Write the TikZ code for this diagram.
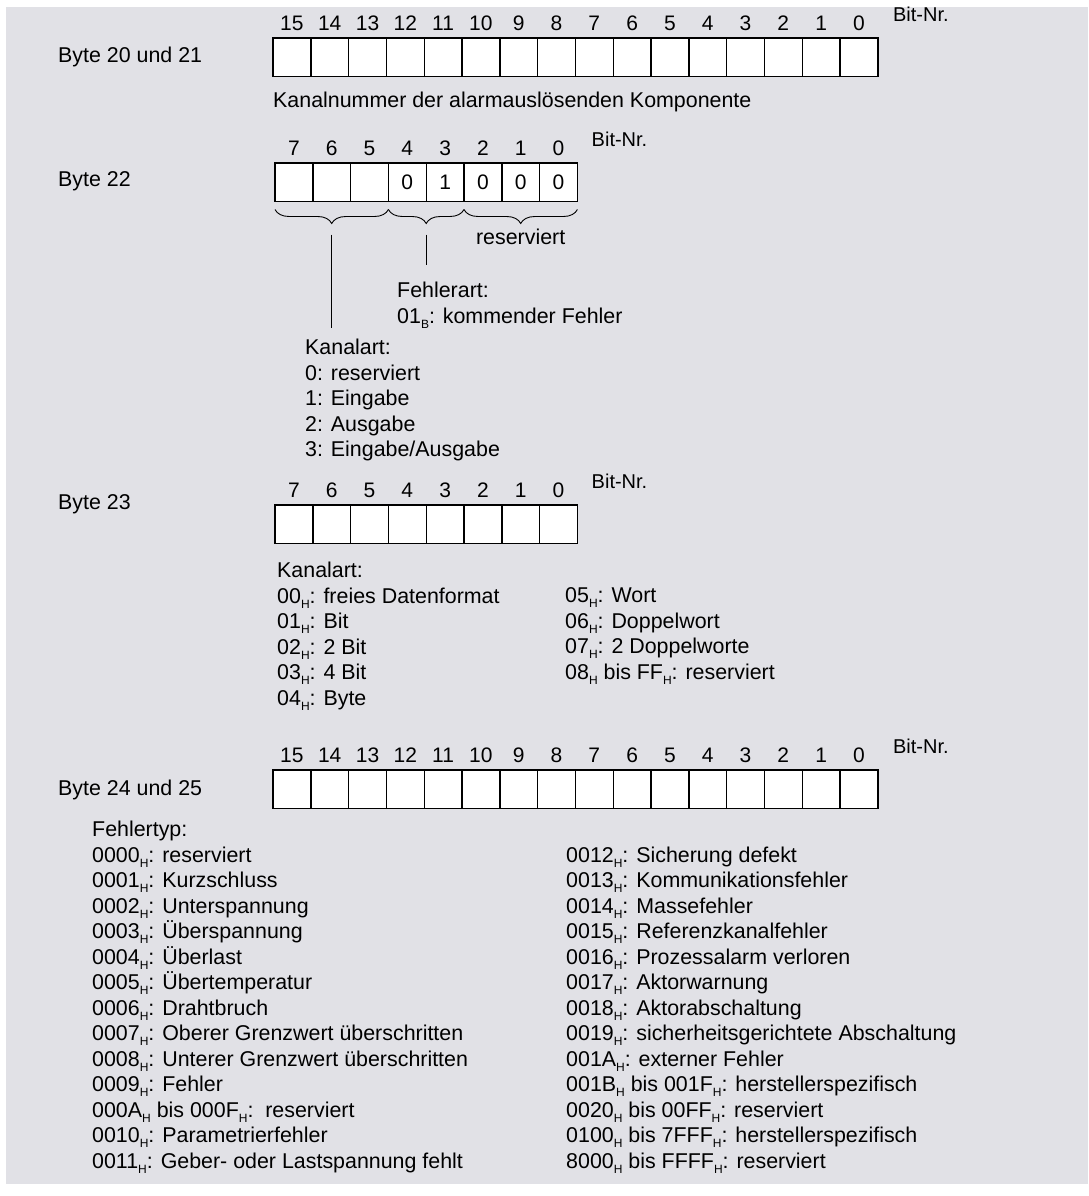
\documentclass[tikz,border=0pt]{standalone}
\usepackage{fontspec}
\setmainfont{Liberation Sans}
\usetikzlibrary{positioning,calc,decorations.pathreplacing}
\definecolor{grund}{RGB}{225,225,230}
\newcommand{\hsub}{\raisebox{-5pt}{\fontsize{12}{12}\selectfont H}}
\newcommand{\bsub}{\raisebox{-5pt}{\fontsize{12}{12}\selectfont B}}

\begin{document}
\begin{tikzpicture}[x=1pt,y=-1pt,
    txt/.style={font=\fontsize{21.4}{25.5}\selectfont, inner sep=0pt, align=left},
    bitzelle/.style={draw, line width=1.4pt, fill=white, minimum width=37.8pt, minimum height=38.5pt, inner sep=0pt, outer sep=0pt, font=\fontsize{21}{24}\selectfont},
    bitnum/.style={font=\fontsize{21}{24}\selectfont, inner sep=0pt},
    bitnr/.style={font=\fontsize{20}{22}\selectfont, inner sep=0pt, anchor=south west},
    klammer/.style={decorate, decoration={brace, mirror, amplitude=14pt, raise=8pt}, line width=0.9pt},
    strich/.style={line width=0.9pt}]
    \useasboundingbox (0,0) rectangle (1088,1196);
    \fill[grund] (6,7) rectangle (1088,1184);

    % Byte 20 und 21
    \node[txt, anchor=west] (byteA) at (58,57) {Byte 20 und 21};
    \foreach \i in {0,...,15} {
        \node[bitzelle] (a\i) at ({273+37.8*(15-\i)+18.9},57.25) {};
        \node[bitnum, above=7pt of a\i] (na\i) {\i};
    }
    \node[bitnr] (nrA) at ($(na0.north east)+(28,6)$) {Bit-Nr.};
    \node[txt, below=15pt of a15.south west, anchor=north west] (kanalnr) {Kanalnummer der alarmauslösenden Komponente};

    % Byte 22
    \node[txt, anchor=west] (byteB) at (58,181) {Byte 22};
    \foreach \i/\w in {7/{},6/{},5/{},4/0,3/1,2/0,1/0,0/0} {
        \node[bitzelle] (b\i) at ({275+37.8*(7-\i)+18.9},182.25) {\w};
        \node[bitnum, above=7pt of b\i] (nb\i) {\i};
    }
    \node[bitnr] (nrB) at ($(nb0.north east)+(27,6)$) {Bit-Nr.};
    \draw[klammer] (b7.south west) -- (b5.south east);
    \draw[klammer] (b4.south west) -- (b3.south east);
    \draw[klammer] (b2.south west) -- (b0.south east);
    \node[txt, anchor=north] (resv) at ($(b1.south)+(0,27)$) {reserviert};
    \coordinate (kspitze) at ($(b6.south)+(0,33)$);
    \coordinate (kende) at ($(b6.south)+(0,126)$);
    \coordinate (fspitze) at ($(b4.south east)+(0,33)$);
    \coordinate (fende) at ($(b4.south east)+(0,63)$);
    \draw[strich] (kspitze) -- (kende);
    \draw[strich] (fspitze) -- (fende);
    \node[txt, anchor=north west] (fehlerart) at (397,282) {Fehlerart:\\01\bsub: kommender Fehler};
    \node[txt, anchor=north west] (kanalartB) at (305,339) {Kanalart:\\0: reserviert\\1: Eingabe\\2: Ausgabe\\3: Eingabe/Ausgabe};

    % Byte 23
    \node[txt, anchor=west] (byteC) at (58,504) {Byte 23};
    \foreach \i in {0,...,7} {
        \node[bitzelle] (c\i) at ({275+37.8*(7-\i)+18.9},524.25) {};
        \node[bitnum, above=7pt of c\i] (nc\i) {\i};
    }
    \node[bitnr] (nrC) at ($(nc0.north east)+(27,6)$) {Bit-Nr.};
    \node[txt, anchor=north west] (kanalartC) at (277,562) {Kanalart:\\00\hsub: freies Datenformat\\01\hsub: Bit\\02\hsub: 2 Bit\\03\hsub: 4 Bit\\04\hsub: Byte};
    \node[txt, anchor=north west] (kanalartD) at (565,587.5) {05\hsub: Wort\\06\hsub: Doppelwort\\07\hsub: 2 Doppelworte\\08\hsub{} bis FF\hsub: reserviert};

    % Byte 24 und 25
    \node[txt, anchor=west] (byteD) at (58,790) {Byte 24 und 25};
    \foreach \i in {0,...,15} {
        \node[bitzelle] (d\i) at ({273+37.8*(15-\i)+18.9},789.25) {};
        \node[bitnum, above=7pt of d\i] (nd\i) {\i};
    }
    \node[bitnr] (nrD) at ($(nd0.north east)+(28,6)$) {Bit-Nr.};
    \node[txt, anchor=north west] (fehlertyp) at (92,821) {Fehlertyp:\\
        0000\hsub: reserviert\\
        0001\hsub: Kurzschluss\\
        0002\hsub: Unterspannung\\
        0003\hsub: Überspannung\\
        0004\hsub: Überlast\\
        0005\hsub: Übertemperatur\\
        0006\hsub: Drahtbruch\\
        0007\hsub: Oberer Grenzwert überschritten\\
        0008\hsub: Unterer Grenzwert überschritten\\
        0009\hsub: Fehler\\
        000A\hsub{} bis 000F\hsub:\ \ reserviert\\
        0010\hsub: Parametrierfehler\\
        0011\hsub: Geber- oder Lastspannung fehlt};
    \node[txt, anchor=north west] (fehlertypR) at (566,846.5) {0012\hsub: Sicherung defekt\\
        0013\hsub: Kommunikationsfehler\\
        0014\hsub: Massefehler\\
        0015\hsub: Referenzkanalfehler\\
        0016\hsub: Prozessalarm verloren\\
        0017\hsub: Aktorwarnung\\
        0018\hsub: Aktorabschaltung\\
        0019\hsub: sicherheitsgerichtete Abschaltung\\
        001A\hsub: externer Fehler\\
        001B\hsub{} bis 001F\hsub: herstellerspezifisch\\
        0020\hsub{} bis 00FF\hsub: reserviert\\
        0100\hsub{} bis 7FFF\hsub: herstellerspezifisch\\
        8000\hsub{} bis FFFF\hsub: reserviert};
\end{tikzpicture}
\end{document}
